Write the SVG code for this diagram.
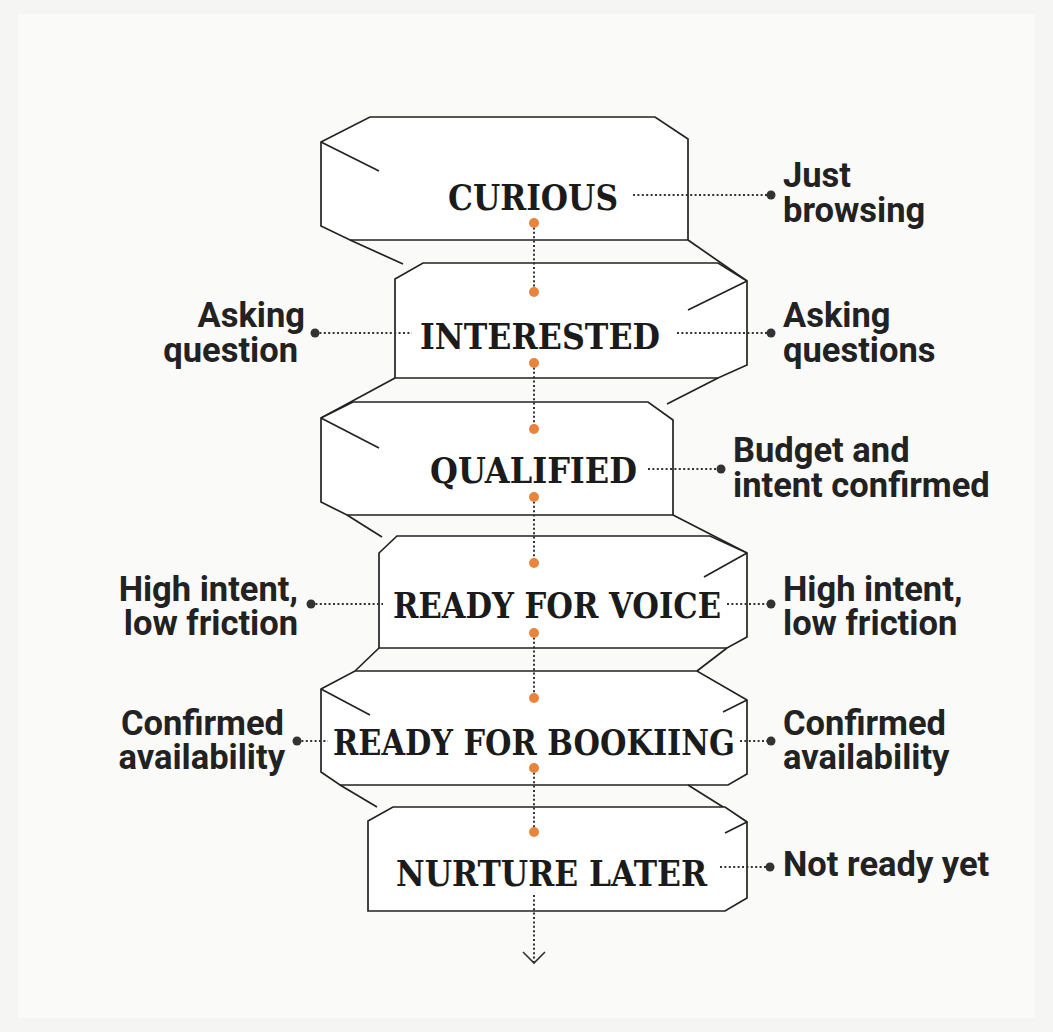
<svg xmlns="http://www.w3.org/2000/svg" width="1053" height="1032" viewBox="0 0 1053 1032">
<style>
.face{fill:#fff;stroke:#222;stroke-width:1.7;stroke-linejoin:miter}
.fold{fill:none;stroke:#222;stroke-width:1.7}
.title{font-family:"DejaVu Serif","Liberation Serif",serif;font-weight:700;font-size:36px;fill:#1b1b1b;text-anchor:middle}
.lbl{font-family:Roboto,"Liberation Sans",sans-serif;font-weight:700;font-size:34.5px;fill:#222}
.end{text-anchor:end}
.dl{fill:none;stroke:#333;stroke-width:2;stroke-dasharray:2 2.4}
.od{fill:#E8843C}
.gd{fill:#333}
</style>
<rect x="0" y="0" width="1053" height="1032" fill="#f5f5f4"/>
<rect x="18" y="14" width="1017" height="1004" fill="#fafaf9"/>

<g id="node-curious">
<polygon class="face" points="370,117 655,117 688,139 688,240 350,240 321,226 321,142"/>
<polyline class="fold" points="350,240 403,264"/>
<line class="fold" x1="321" y1="142" x2="379" y2="171"/>
<line class="fold" x1="688" y1="240" x2="747" y2="281"/>
<text class="title" x="533" y="210" textLength="170" lengthAdjust="spacingAndGlyphs">CURIOUS</text>
</g>

<g id="node-interested">
<polygon class="face" points="423,263 718,263 747,281 747,365 718,378 395,378 395,279"/>
<line class="fold" x1="718" y1="378" x2="667" y2="404"/>
<line class="fold" x1="395" y1="378" x2="321" y2="418"/>
<line class="fold" x1="747" y1="281" x2="688" y2="310"/>
<text class="title" x="540" y="349" textLength="240" lengthAdjust="spacingAndGlyphs">INTERESTED</text>
</g>

<g id="node-qualified">
<polygon class="face" points="353,402 648,402 673,420 673,515 347,515 321,502 321,418"/>
<line class="fold" x1="347" y1="515" x2="382" y2="537"/>
<line class="fold" x1="321" y1="418" x2="379" y2="448"/>
<line class="fold" x1="673" y1="515" x2="747" y2="553"/>
<text class="title" x="533.5" y="483" textLength="207" lengthAdjust="spacingAndGlyphs">QUALIFIED</text>
</g>

<g id="node-ready-voice">
<polygon class="face" points="397,536 710,536 747,553 747,637 727,648 379,648 379,553"/>
<line class="fold" x1="727" y1="648" x2="697" y2="671"/>
<line class="fold" x1="379" y1="648" x2="355" y2="671"/>
<line class="fold" x1="747" y1="553" x2="704" y2="577"/>
<text class="title" x="557" y="618" textLength="328" lengthAdjust="spacingAndGlyphs">READY FOR VOICE</text>
</g>

<g id="node-ready-booking">
<polygon class="face" points="355,671 697,671 747,700 747,774 728,785 340,785 321,772 321,689"/>
<line class="fold" x1="340" y1="785" x2="377" y2="807"/>
<line class="fold" x1="321" y1="689" x2="370" y2="715"/>
<line class="fold" x1="747" y1="700" x2="723" y2="712"/>
<line class="fold" x1="688" y1="785" x2="747" y2="822"/>
<text class="title" x="534" y="755" textLength="402" lengthAdjust="spacingAndGlyphs">READY FOR BOOKIING</text>
</g>

<g id="node-nurture">
<polygon class="face" points="393,807 725,807 747,822 747,898 725,911 368,911 368,821"/>
<line class="fold" x1="747" y1="822" x2="725" y2="833"/>
<text class="title" x="551.5" y="886" textLength="311" lengthAdjust="spacingAndGlyphs">NURTURE LATER</text>
</g>

<g id="label-just-browsing">
<text class="lbl" x="783" y="187">Just<tspan x="783" y="222">browsing</tspan></text>
</g>
<g id="label-asking-question-left">
<text class="lbl end" x="305" y="327">Asking<tspan x="298" y="362">question</tspan></text>
</g>
<g id="label-asking-questions-right">
<text class="lbl" x="783" y="327">Asking<tspan x="783" y="362">questions</tspan></text>
</g>
<g id="label-budget">
<text class="lbl" x="733" y="462">Budget and<tspan x="733" y="497">intent confirmed</tspan></text>
</g>
<g id="label-high-intent-left">
<text class="lbl end" x="298" y="601">High intent,<tspan x="298" y="635">low friction</tspan></text>
</g>
<g id="label-high-intent-right">
<text class="lbl" x="783" y="601">High intent,<tspan x="783" y="635">low friction</tspan></text>
</g>
<g id="label-confirmed-left">
<text class="lbl end" x="284" y="735">Confirmed<tspan x="285" y="769">availability</tspan></text>
</g>
<g id="label-confirmed-right">
<text class="lbl" x="783" y="735">Confirmed<tspan x="783" y="769">availability</tspan></text>
</g>
<g id="label-not-ready">
<text class="lbl" x="783" y="876">Not ready yet</text>
</g>

<g id="connectors">
<line class="dl" x1="534" y1="223" x2="534" y2="292"/>
<line class="dl" x1="534" y1="363" x2="534" y2="429"/>
<line class="dl" x1="534" y1="497" x2="534" y2="563"/>
<line class="dl" x1="534" y1="633" x2="534" y2="698"/>
<line class="dl" x1="534" y1="768" x2="534" y2="832"/>
<line class="dl" x1="534" y1="895" x2="534" y2="962"/>
<polyline fill="none" stroke="#333" stroke-width="1.6" points="523,952 534,963 545,952"/>
<circle class="od" cx="534" cy="223" r="5"/>
<circle class="od" cx="534" cy="292" r="5"/>
<circle class="od" cx="534" cy="363" r="5"/>
<circle class="od" cx="534" cy="429" r="5"/>
<circle class="od" cx="534" cy="497" r="5"/>
<circle class="od" cx="534" cy="563" r="5"/>
<circle class="od" cx="534" cy="633" r="5"/>
<circle class="od" cx="534" cy="698" r="5"/>
<circle class="od" cx="534" cy="768" r="5"/>
<circle class="od" cx="534" cy="832" r="5"/>

<line class="dl" x1="633" y1="195" x2="771" y2="195"/>
<circle class="gd" cx="771" cy="195" r="4.5"/>
<line class="dl" x1="315" y1="333" x2="412" y2="333"/>
<circle class="gd" cx="315" cy="333" r="4.5"/>
<line class="dl" x1="677" y1="333" x2="771" y2="333"/>
<circle class="gd" cx="771" cy="333" r="4.5"/>
<line class="dl" x1="648" y1="469" x2="721" y2="469"/>
<circle class="gd" cx="721" cy="469" r="4.5"/>
<line class="dl" x1="311" y1="604" x2="383" y2="604"/>
<circle class="gd" cx="311" cy="604" r="4.5"/>
<line class="dl" x1="727" y1="604" x2="771" y2="604"/>
<circle class="gd" cx="771" cy="604" r="4.5"/>
<line class="dl" x1="297" y1="741" x2="328" y2="741"/>
<circle class="gd" cx="297" cy="741" r="4.5"/>
<line class="dl" x1="740" y1="741" x2="771" y2="741"/>
<circle class="gd" cx="771" cy="741" r="4.5"/>
<line class="dl" x1="720" y1="867" x2="770" y2="867"/>
<circle class="gd" cx="770" cy="867" r="4.5"/>
</g>
</svg>
